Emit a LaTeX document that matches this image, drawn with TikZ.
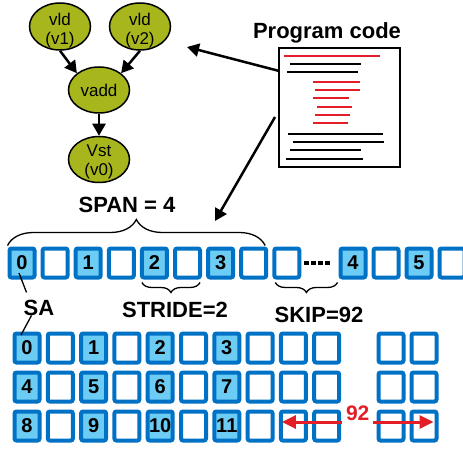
\documentclass[tikz,border=0pt]{standalone}
\usepackage{fontspec}
\setmainfont{Liberation Sans}
\usetikzlibrary{arrows.meta,shapes.geometric,decorations.pathreplacing,calc}
\definecolor{nodegreen}{RGB}{168,182,30}
\definecolor{cellblue}{RGB}{0,114,198}
\definecolor{cellfill}{RGB}{108,204,244}
\definecolor{codered}{RGB}{228,30,38}
\begin{document}
\begin{tikzpicture}[x=1pt,y=-1pt,
  cell/.style={draw=cellblue, line width=4pt, rounded corners=2pt, minimum width=25pt, minimum height=29pt, inner sep=0pt, fill=white, font=\fontsize{20}{20}\selectfont\bfseries},
  numcell/.style={fill=cellfill},
  op/.style={ellipse, draw, line width=1.5pt, fill=nodegreen, minimum width=61pt, minimum height=47pt, inner sep=0pt},
  optext/.style={align=center, inner sep=0pt, font=\fontsize{17}{19}\selectfont},
  arr/.style={line width=2.5pt, -{Triangle[length=12pt,width=13pt]}},
  lbl/.style={font=\fontsize{22}{22}\selectfont\bfseries, anchor=base},
  brc/.style={decorate, line width=1.3pt, decoration={brace, amplitude=#1}},
  codeline/.style={line width=2pt}
  ]
\useasboundingbox (0,0) rectangle (463,449);

% dataflow graph
\node[op, label={[optext, yshift=-4pt]center:vld\\(v1)}] (v1) at (60,26.5) {};
\node[op, label={[optext, yshift=-4pt]center:vld\\(v2)}] (v2) at (140,26.5) {};
\node[op, minimum height=46pt, label={[optext]center:vadd}] (vadd) at (99,90) {};
\node[op, minimum height=46pt, label={[optext, yshift=-2pt]center:Vst\\(v0)}] (v0) at (99,159.5) {};
\draw[arr] (v1.south) -- (vadd.north west);
\draw[arr] (v2.south) -- (vadd.north east);
\draw[arr] (vadd) -- (v0);

% program code
\node[draw, line width=1.5pt, minimum width=121pt, minimum height=119pt, inner sep=0pt] (code) at (339.5,107.5) {};
\node[lbl] (title) at (327,39) {Program code};
\foreach \xa/\xb/\y/\c in {284/380/56/codered, 290/361/64/black, 287/358/72/black,
  313/360/82/codered, 315/360/90/codered, 313/349/98/codered, 317/352/107/codered,
  315/350/115/codered, 313/348/123/codered, 288/383/134/black, 293/384/142/black,
  290/361/150/black, 286/363/159/black}
  \draw[codeline, \c] (\xa,\y) -- (\xb,\y);
\coordinate (g) at (187,47);
\coordinate (c1) at ($(code.north west)!0.195!(code.south west)$);
\draw[arr] (c1) -- (g);
\coordinate (c2) at (275,117);
\coordinate (s) at (215,221);
\draw[arr] (c2) -- (s);

% top row of memory
\foreach \i in {1,3,5,7,8}
  \node[cell] (t\i) at ({22+33.1*\i},263) {};
\foreach \i/\n in {0/0,2/1,4/2,6/3}
  \node[cell,numcell] (t\i) at ({22+33.1*\i},263) {\n};
\node[cell,numcell] (t9) at (353,263) {4};
\node[cell] (t10) at (386,263) {};
\node[cell,numcell] (t11) at (419,263) {5};
\node[cell] (t12) at (452,263) {};
\draw[line width=4pt, dash pattern=on 5pt off 2pt] (304,263) -- (330,263);

% braces and labels
\draw[brc=26] ($(t0.north west)+(0,-1)$) -- ($(t7.north east)+(-3,-1)$);
\node[lbl] (span) at (127,213) {SPAN = 4};
\draw[brc=10] ($(t5.south east)+(-2,3)$) -- ($(t4.south west)+(2,3)$);
\node[lbl] (stride) at (175,317) {STRIDE=2};
\draw[brc=10] ($(t9.south west)+(-1,3)$) -- ($(t8.south west)+(3,3)$);
\node[lbl] (skip) at (319,322) {SKIP=92};
\node[lbl, inner sep=0pt] (sa) at (39,315) {SA};

% 2D layout
\foreach \r in {0,1,2} {
  \foreach \c in {1,3,5,7,8,9}
    \node[cell] (b\r-\c) at ({27+33.3*\c},{348+39*\r}) {};
  \foreach \c/\k in {0/0,2/1,4/2,6/3}
    \node[cell,numcell] (b\r-\c) at ({27+33.3*\c},{348+39*\r}) {\pgfmathtruncatemacro\lab{4*\r+\k}\lab};
  \node[cell] (b\r-10) at (391,{348+39*\r}) {};
  \node[cell] (b\r-11) at (424,{348+39*\r}) {};
}

% SA pointers
\coordinate (sa1) at ($(t0.center)+(-3,10)$);
\draw[line width=1.3pt] (sa1) -- ($(sa.north west)+(3,-7)$);
\draw[line width=1.3pt] ($(sa.south west)+(8,0)$) -- ($(b0-0.center)+(-6,-13)$);

% skip distance
\draw[line width=3pt, codered, {Triangle[length=14pt,width=13pt]}-{Triangle[length=14pt,width=13pt]}]
  ($(b2-8.west)+(3,-4)$) -- node[midway, yshift=9pt, fill=white, text=codered, inner xsep=4pt, inner ysep=0pt, minimum height=22pt, font=\fontsize{21}{21}\selectfont\bfseries] (n92) {92} ($(b2-11.east)+(-5,-4)$);
\end{tikzpicture}
\end{document}
